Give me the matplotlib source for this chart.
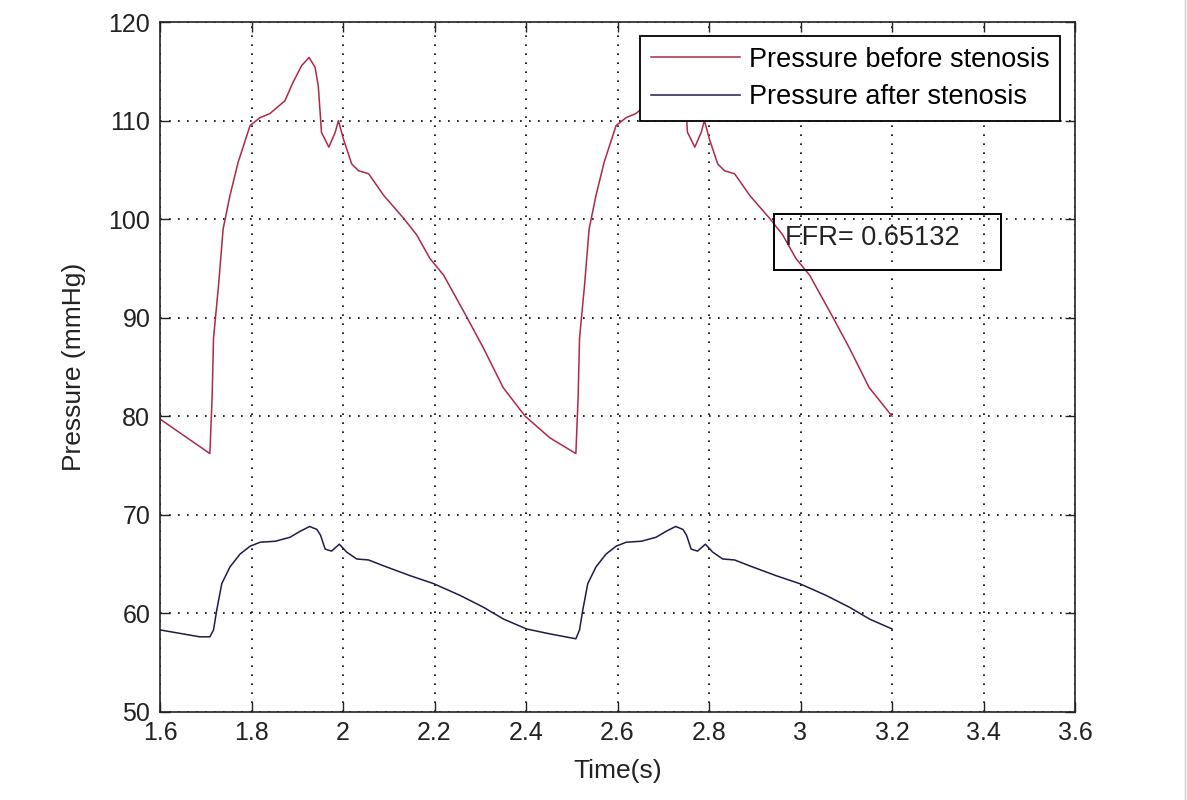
import matplotlib
matplotlib.use("Agg")
import matplotlib.pyplot as plt
from matplotlib.patches import Rectangle
from matplotlib.lines import Line2D

plt.rcParams['font.family'] = ['Liberation Sans', 'DejaVu Sans']

# ---- data ----
time_before = [1.600, 1.709, 1.714, 1.717, 1.728, 1.738, 1.753, 1.771, 1.797, 1.819, 1.840,
               1.873, 1.891, 1.910, 1.926, 1.939, 1.946, 1.953, 1.969, 1.983, 1.990,
               2.001, 2.019, 2.034, 2.056, 2.089, 2.132, 2.161, 2.190, 2.220, 2.270,
               2.307, 2.350, 2.398, 2.452, 2.509,
               2.514, 2.517, 2.528, 2.538, 2.553, 2.571, 2.597, 2.619, 2.640, 2.673, 2.691,
               2.710, 2.726, 2.739, 2.746, 2.753, 2.769, 2.783, 2.790, 2.801, 2.819,
               2.834, 2.856, 2.889, 2.932, 2.961, 2.990, 3.020, 3.070, 3.107, 3.150,
               3.200]
pressure_before = [79.7, 76.2, 82.0, 87.9, 93.3, 99.0, 102.4, 105.8, 109.5, 110.3, 110.7,
                   112.0, 113.9, 115.6, 116.4, 115.4, 113.5, 108.8, 107.3, 108.8, 110.0,
                   108.1, 105.6, 104.9, 104.6, 102.4, 100.1, 98.4, 96.0, 94.3, 90.1,
                   86.9, 82.9, 80.0, 77.8, 76.2,
                   82.0, 87.9, 93.3, 99.0, 102.4, 105.8, 109.5, 110.3, 110.7, 112.0, 113.9,
                   115.6, 116.4, 115.4, 113.5, 108.8, 107.3, 108.8, 110.0, 108.1, 105.6,
                   104.9, 104.6, 102.4, 100.1, 98.4, 96.0, 94.3, 90.1, 86.9, 82.9,
                   80.0]

time_after = [1.600, 1.687, 1.709, 1.717, 1.724, 1.735, 1.753, 1.775, 1.797, 1.819,
              1.852, 1.884, 1.906, 1.927, 1.943, 1.951, 1.961, 1.975, 1.992, 2.008,
              2.030, 2.056, 2.089, 2.147, 2.198, 2.256, 2.307, 2.351, 2.401, 2.452,
              2.509,
              2.517, 2.524, 2.535, 2.553, 2.575, 2.597, 2.619, 2.652, 2.684, 2.706,
              2.727, 2.743, 2.751, 2.761, 2.775, 2.792, 2.808, 2.830, 2.856, 2.889,
              2.947, 2.998, 3.056, 3.107, 3.151, 3.200]
pressure_after = [58.3, 57.6, 57.6, 58.3, 60.3, 63.0, 64.7, 66.0, 66.8, 67.2,
                  67.3, 67.7, 68.3, 68.8, 68.5, 67.9, 66.5, 66.3, 67.0, 66.2,
                  65.5, 65.4, 64.8, 63.8, 63.0, 61.8, 60.6, 59.4, 58.4, 57.9,
                  57.4,
                  58.3, 60.3, 63.0, 64.7, 66.0, 66.8, 67.2, 67.3, 67.7, 68.3,
                  68.8, 68.5, 67.9, 66.5, 66.3, 67.0, 66.2, 65.5, 65.4, 64.8,
                  63.8, 63.0, 61.8, 60.6, 59.4, 58.4]

x_ticks = [1.6, 1.8, 2.0, 2.2, 2.4, 2.6, 2.8, 3.0, 3.2, 3.4, 3.6]
x_tick_labels = ['1.6', '1.8', '2', '2.2', '2.4', '2.6', '2.8', '3', '3.2', '3.4', '3.6']
y_ticks = [50, 60, 70, 80, 90, 100, 110, 120]
label_before = 'Pressure before stenosis'
label_after = 'Pressure after stenosis'
ffr_text = 'FFR= 0.65132'

# ---- figure ----
fig = plt.figure(figsize=(11.87, 8.0), dpi=100)
ax = fig.add_axes([160/1187, 1 - 711.7/800, (1075 - 160)/1187, (711.7 - 22)/800])

ax.plot(time_before, pressure_before, color='#b02848', lw=1.1, label=label_before)
ax.plot(time_after, pressure_after, color='#1c1c4a', lw=1.1, label=label_after)

ax.set_xlim(1.6, 3.6)
ax.set_ylim(50, 120)
ax.set_xticks(x_ticks)
ax.set_xticklabels(x_tick_labels)
ax.set_yticks(y_ticks)

ax.grid(True, color='black', linestyle=(0, (1, 4.4)), linewidth=1.2)
ax.tick_params(direction='in', length=7.5, width=1.0, top=True, right=True,
               labelsize=18, pad=7, colors='#222222')
for s in ax.spines.values():
    s.set_linewidth(1.2)
    s.set_color('#222222')

ax.set_xlabel('Time(s)', fontsize=19, labelpad=10, color='#222222')
ax.set_ylabel('Pressure (mmHg)', fontsize=19, labelpad=16, color='#222222')

leg = ax.legend(loc='upper right', bbox_to_anchor=(0.9836, 0.9797), borderaxespad=0,
                fontsize=19.5, frameon=True, fancybox=False, framealpha=1.0,
                handlelength=3.3, handletextpad=0.3, borderpad=0.4, labelspacing=0.42)
leg.get_frame().set_edgecolor('black')
leg.get_frame().set_linewidth(1.3)

# FFR annotation box
ax.add_patch(Rectangle((2.942, 94.8), 3.439 - 2.942, 100.5 - 94.8,
                       fill=False, edgecolor='black', linewidth=1.4, zorder=5))
ax.text(2.966, 98.1, ffr_text, fontsize=19.5, va='center', ha='left', color='#222222',
        zorder=6)

fig.add_artist(Line2D([1185/1187, 1185/1187], [0, 1], transform=fig.transFigure,
                      color='#cccccc', lw=1))

fig.savefig('out.png', dpi=100, facecolor='white')
